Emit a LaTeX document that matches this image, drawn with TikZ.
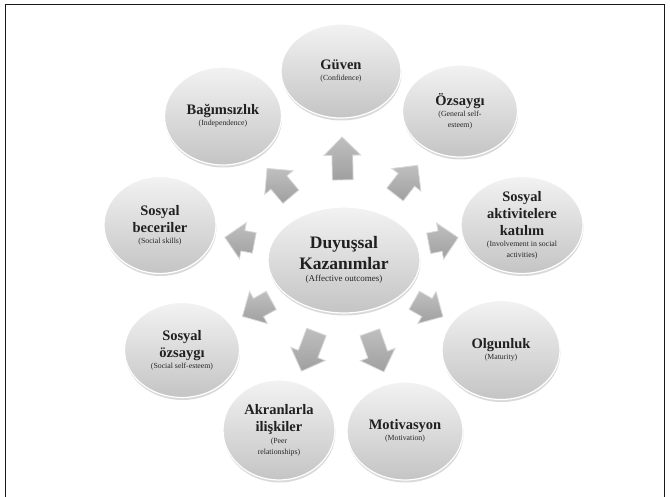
\documentclass[tikz,border=0pt]{standalone}
\usepackage{fontspec}
\setmainfont{Liberation Serif}
\usepackage{tikz}
\usetikzlibrary{shapes.geometric,shapes.arrows,shadows}
\newcommand{\eng}[1]{{\fontsize{7.8}{9}\selectfont\mdseries\color{gray!30!black}#1}}
\newcommand{\engc}[1]{{\fontsize{9}{10}\selectfont\mdseries\color{gray!30!black}#1}}
\tikzset{bubble/.style={ellipse,draw=white,line width=1.2pt,inner sep=0pt,
minimum width=116pt, minimum height=96pt, top color=gray!10, bottom color=gray!46,
drop shadow={shadow xshift=0.5pt,shadow yshift=-2.5pt,opacity=0.3},
align=center, text=gray!25!black, font=\fontsize{14.5}{17}\selectfont\bfseries},
core/.style={bubble,minimum width=152pt,minimum height=106pt,
font=\fontsize{17.5}{21}\selectfont\bfseries},
blk/.style={single arrow,draw=gray!30,line width=0.8pt,top color=gray!50,bottom color=gray!75,
single arrow head extend=8pt,minimum width=36pt,minimum height=#1,inner xsep=0pt,inner ysep=10pt,
sloped,allow upside down,pos=.51},
blk/.default=37pt}

\begin{document}
\begin{tikzpicture}[x=1pt,y=-1pt]
  \useasboundingbox (0,0) rectangle (670,497);
  \draw [gray!20!black, line width=1pt] (5,497) -- (5,4.5) -- (664.5,4.5) -- (664.5,497);

  \node (duy) [core] at (344,260) {Duyuşsal\\Kazanımlar\\[-9pt]\engc{(Affective outcomes)}};
  \node (guven) [bubble, minimum width=120pt, minimum height=94pt] at (341,71)
    {Güven\\[-6pt]\eng{(Confidence)}};
  \node (ozs) [bubble, minimum width=115pt, minimum height=92pt] at (460,111)
    {Özsaygı\\[-6pt]\eng{(General self-}\\[-6pt]\eng{esteem)}};
  \node (akt) [bubble, minimum width=122pt, minimum height=97pt] at (522,225)
    {Sosyal\\aktivitelere\\katılım\\[-6pt]\eng{(Involvement in social}\\[-6pt]\eng{activities)}};
  \node (olg) [bubble, minimum width=118pt, minimum height=99pt] at (501,350)
    {Olgunluk\\[-6pt]\eng{(Maturity)}};
  \node (mot) [bubble, minimum height=98pt] at (405,431)
    {Motivasyon\\[-6pt]\eng{(Motivation)}};
  \node (akr) [bubble, minimum width=112pt, minimum height=100pt] at (279,430)
    {Akranlarla\\ilişkiler\\[-5pt]\eng{(Peer}\\[-6pt]\eng{relationships)}};
  \node (sozs) [bubble, minimum width=115pt, minimum height=95pt] at (182,350)
    {Sosyal\\özsaygı\\[-6pt]\eng{(Social self-esteem)}};
  \node (sbec) [bubble, minimum width=112pt, minimum height=97pt] at (160,225)
    {Sosyal\\beceriler\\[-6pt]\eng{(Social skills)}};
  \node (bag) [bubble, minimum width=117pt, minimum height=98pt] at (223,116)
    {Bağımsızlık\\[-6pt]\eng{(Independence)}};

  \path (duy.center) -- (guven.center) node [blk=43pt] {};
  \path (duy.center) -- (ozs.center) node [blk] {};
  \path (duy.center) -- (akt.center) node [blk=30pt, pos=.53] {};
  \path (duy.center) -- (olg.center) node [blk=33pt] {};
  \path (duy.center) -- (mot.center) node [blk=42pt] {};
  \path (duy.center) -- (akr.center) node [blk=42pt] {};
  \path (duy.center) -- (sozs.center) node [blk=33pt] {};
  \path (duy.center) -- (sbec.center) node [blk=30pt, pos=.54] {};
  \path (duy.center) -- (bag.center) node [blk] {};
\end{tikzpicture}
\end{document}
